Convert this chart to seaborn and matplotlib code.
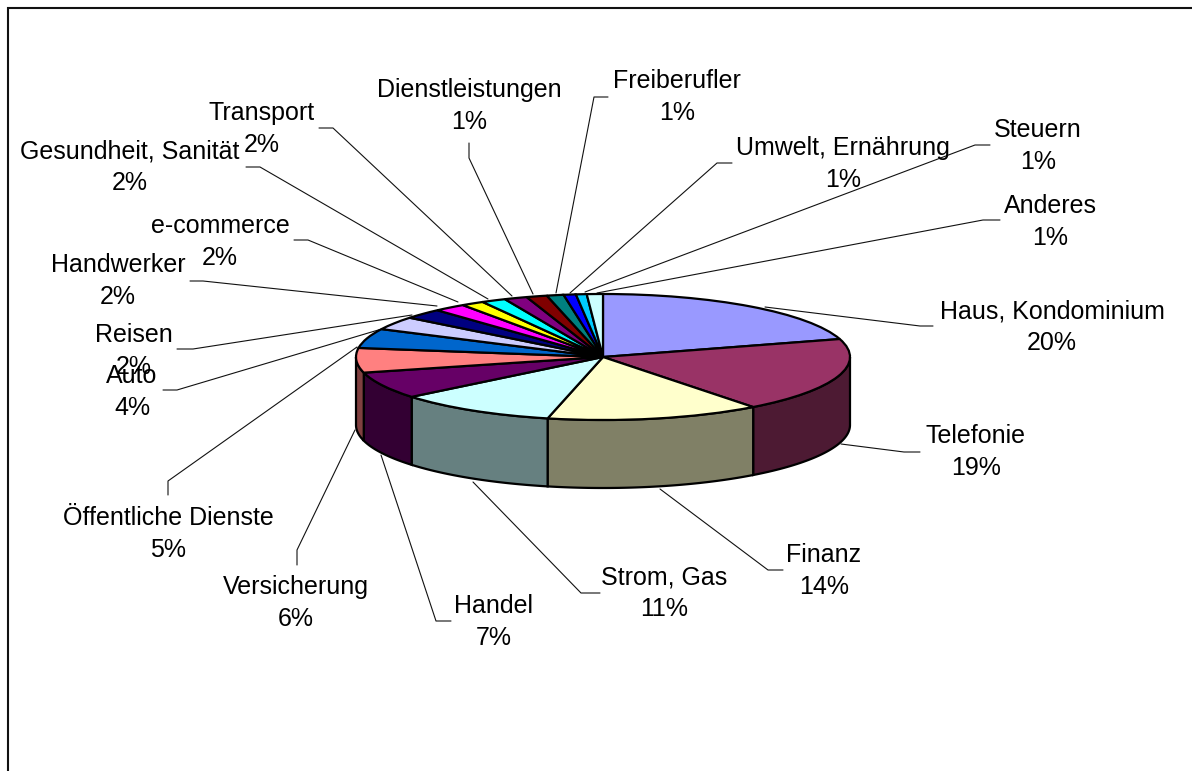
import numpy as np
import seaborn as sns
import matplotlib
matplotlib.use('Agg')
import matplotlib.pyplot as plt

categories = ['Haus, Kondominium', 'Telefonie', 'Finanz', 'Strom, Gas', 'Handel', 'Versicherung',
              'Öffentliche Dienste', 'Auto', 'Reisen', 'Handwerker', 'e-commerce',
              'Gesundheit, Sanität', 'Transport', 'Dienstleistungen', 'Freiberufler',
              'Umwelt, Ernährung', 'Steuern', 'Anderes']
# shares, the printed percentages are kept separately
values = [20.4, 19.2, 14.0, 10.5, 6.9, 6.3, 5.0, 3.4, 2.6, 2.1, 1.5, 1.6, 1.5, 1.35, 1.1, 0.8, 0.7, 1.05]
percent_labels = ['20%', '19%', '14%', '11%', '7%', '6%', '5%', '4%', '2%', '2%', '2%', '2%', '2%',
                  '1%', '1%', '1%', '1%', '1%']
slice_colors = ['#9999FF', '#993366', '#FFFFCC', '#CCFFFF', '#660066', '#FF8080', '#0066CC', '#CCCCFF',
                '#000080', '#FF00FF', '#FFFF00', '#00FFFF', '#800080', '#800000', '#008080', '#0000FF',
                '#00CCFF', '#CCFFFF']

# layout in image pixels: label centre x, baseline y
label_pos = [(1052, 318), (976, 443), (824, 562), (664, 584), (494, 613), (296, 594), (168, 525),
             (132, 383), (134, 342), (118, 272), (220, 233), (130, 158), (262, 120), (469, 97),
             (677, 88), (843, 155), (1038, 137), (1050, 213)]
leaders = [[(933, 326), (920, 326), (765, 307)],
           [(920, 452), (904, 452), (841, 444)],
           [(783, 570), (768, 570), (660, 489)],
           [(600, 593), (581, 593), (473, 482)],
           [(451, 621), (436, 621), (381, 455)],
           [(297, 565), (297, 550), (355, 430)],
           [(168, 495), (168, 481), (357, 347)],
           [(163, 390), (177, 390), (385, 328)],
           [(177, 349), (193, 349), (412, 315)],
           [(190, 281), (203, 281), (437, 306)],
           [(294, 240), (308, 240), (458, 302)],
           [(246, 167), (260, 167), (488, 299)],
           [(319, 128), (333, 128), (512, 296)],
           [(469, 143), (469, 158), (533, 294)],
           [(608, 97), (594, 97), (556, 293)],
           [(732, 163), (717, 163), (570, 293)],
           [(990, 145), (975, 145), (585, 292)],
           [(1000, 220), (983, 220), (597, 293)]]

W, H = 1192, 771
cx, cy, rx, ry, depth = 603, 357, 247, 63, 68

sns.set_theme(style='white')
plt.rcParams['font.family'] = ['Liberation Sans', 'DejaVu Sans']
colors = sns.color_palette(slice_colors, n_colors=len(slice_colors))
side_colors = [(r / 2, g / 2, b / 2) for r, g, b in colors]

fig = plt.figure(figsize=(W / 100, H / 100), dpi=100, facecolor='white')

# pixel axes for frame, leader lines and labels
bg = fig.add_axes([0, 0, 1, 1], zorder=0)
bg.set_xlim(0, W)
bg.set_ylim(H, 0)
bg.axis('off')
bg.plot([8, 8, W], [H, 8, 8], color='#111111', lw=1.5, solid_joinstyle='miter')
for pts in leaders:
    xs, ys = zip(*pts)
    bg.plot(xs, ys, color='#111111', lw=0.8)
for name, pct, (x, y) in zip(categories, percent_labels, label_pos):
    bg.text(x, y, name, ha='center', va='baseline', fontsize=18, color='black')
    bg.text(x, y + 32, pct, ha='center', va='baseline', fontsize=18, color='black')

# pie axes, one data unit is the radius of the flattened disc
ax = fig.add_axes([0, 0, 1, 1], zorder=1)
ax.patch.set_visible(False)
ax.pie(values, colors=colors, startangle=90, counterclock=False,
       wedgeprops=dict(edgecolor='black', linewidth=1.6))
ax.set_aspect('auto')
ax.set_xlim(-cx / rx, (W - cx) / rx)
ax.set_ylim((cy - H) / ry, cy / ry)
ax.axis('off')

# rim below the front half of the disc
edges = np.cumsum([0] + values) / sum(values) * 360
d = depth / ry
for a, b, c in zip(edges[:-1], edges[1:], side_colors):
    lo, hi = max(a, 90), min(b, 270)
    if hi <= lo:
        continue
    t = np.radians(np.linspace(lo, hi, 60))
    xs = np.sin(t)
    ys = np.cos(t)
    ax.fill(np.r_[xs, xs[::-1]], np.r_[ys, ys[::-1] - d], facecolor=c, edgecolor='black',
            linewidth=1.6, zorder=0.5)

fig.savefig('out.png', dpi=100)
